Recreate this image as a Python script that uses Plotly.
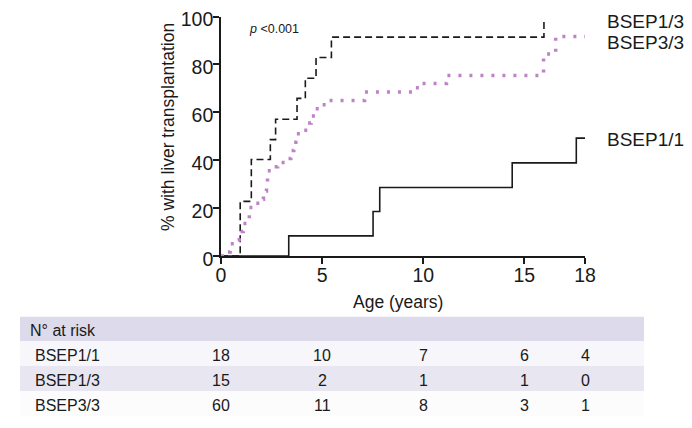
import plotly.graph_objects as go

# ---------------- data ----------------
age_11 = [0, 3.35, 7.52, 7.85, 14.4, 17.57, 18.05]
pct_11 = [0, 8.4, 18.6, 28.6, 38.9, 49.2, 49.2]

age_13 = [0, 0.95, 1.5, 2.44, 2.7, 3.76, 4.17, 4.7, 5.46, 15.97]
pct_13 = [0, 22.8, 40.3, 48.6, 57.1, 65.8, 74.2, 82.9, 91.4, 98.0]

age_33 = [0, 0.3, 0.45, 0.7, 0.9, 1.1, 1.3, 1.4, 1.6, 1.9, 2.1, 2.25, 2.3, 2.5, 2.8,
          3.3, 3.45, 3.6, 3.7, 4.1, 4.3, 4.45, 4.65, 4.95, 5.3, 7.1, 9.55, 9.9, 11.15,
          15.95, 16.55, 18.0]
pct_33 = [0, 1.7, 5.1, 6.8, 10.2, 13.6, 15.3, 20.3, 22.0, 23.7, 27.1, 30.5, 35.6, 37.3, 39.0,
          40.7, 44.0, 47.5, 51.0, 52.5, 55.5, 58.5, 61.5, 63.2, 64.9, 68.5, 70.2, 72.0, 75.4,
          84.3, 91.7, 91.7]

groups = ["BSEP1/1", "BSEP1/3", "BSEP3/3"]
risk_times = [0, 5, 10, 15, 18]
at_risk = {
    "BSEP1/1": [18, 10, 7, 6, 4],
    "BSEP1/3": [15, 2, 1, 1, 0],
    "BSEP3/3": [60, 11, 8, 3, 1],
}
x_ticks = [0, 5, 10, 15, 18]
y_ticks = [0, 20, 40, 60, 80, 100]

# ---------------- layout helpers (window pixel -> paper) ----------------
OFF = 8  # page body margin
W, H = 692 - OFF, 428 - OFF
def px(x):
    return (x - OFF) / W
def py(y):
    return 1 - (y - OFF) / H

FONT = "Liberation Sans, Arial, sans-serif"
INK = "#1a1a1a"
PURPLE = "#BE82C6"

fig = go.Figure()
fig.add_trace(go.Scatter(x=age_11, y=pct_11, mode="lines", line_shape="hv",
                         line=dict(color=INK, width=1.6), showlegend=False))
fig.add_trace(go.Scatter(x=age_13, y=pct_13, mode="lines", line_shape="hv",
                         line=dict(color=INK, width=1.6, dash="7px,4px"), showlegend=False))
fig.add_trace(go.Scatter(x=age_33, y=pct_33, mode="lines", line_shape="hv",
                         line=dict(color=PURPLE, width=3.5, dash="3px,8px"), showlegend=False))

ann = []
# curve labels
for name, yc in [("BSEP1/3", 22), ("BSEP3/3", 42), ("BSEP1/1", 139)]:
    ann.append(dict(text=name, x=px(605), y=py(yc), xref="paper", yref="paper",
                    xanchor="left", yanchor="middle", showarrow=False,
                    font=dict(family=FONT, size=19, color=INK)))
# p value
ann.append(dict(text="<i>p</i> &lt;0.001", x=px(247), y=py(29), xref="paper", yref="paper",
                xanchor="left", yanchor="middle", showarrow=False,
                font=dict(family=FONT, size=12.5, color=INK)))
# axis titles
ann.append(dict(text="% with liver transplantation", x=px(168), y=py(127), xref="paper",
                yref="paper", textangle=-90, xanchor="center", yanchor="middle",
                showarrow=False, font=dict(family=FONT, size=17.5, color=INK)))
ann.append(dict(text="Age (years)", x=px(398), y=py(302), xref="paper", yref="paper",
                xanchor="center", yanchor="middle", showarrow=False,
                font=dict(family=FONT, size=17.5, color=INK)))

# risk table
shapes = []
tbl_left, tbl_right = 20, 644
bands = [(316.7, 341, "#DDDAEB"), (341, 366, "#F7F6FA"), (366, 391, "#E8E6F1"), (391, 416, "#FCFCFD")]
for y0, y1, col in bands:
    shapes.append(dict(type="rect", xref="paper", yref="paper", x0=px(tbl_left), x1=px(tbl_right),
                       y0=py(y1), y1=py(y0), fillcolor=col, line=dict(width=0), layer="below"))
ann.append(dict(text="N° at risk", x=px(28), y=py(330), xref="paper", yref="paper",
                xanchor="left", yanchor="middle", showarrow=False,
                font=dict(family=FONT, size=16, color=INK)))
row_y = [355, 380, 405]
for g, yc in zip(groups, row_y):
    ann.append(dict(text=g, x=px(33), y=py(yc), xref="paper", yref="paper",
                    xanchor="left", yanchor="middle", showarrow=False,
                    font=dict(family=FONT, size=16, color=INK)))
    for t, n in zip(risk_times, at_risk[g]):
        ann.append(dict(text=str(n), x=t, y=py(yc), xref="x", yref="paper",
                        xanchor="center", yanchor="middle", showarrow=False,
                        font=dict(family=FONT, size=16, color=INK)))

axis_common = dict(showgrid=False, zeroline=False, showline=True, linecolor=INK, linewidth=1.6,
                   ticks="outside", ticklen=6, tickwidth=1.6, tickcolor=INK,
                   tickfont=dict(family=FONT, size=19.5, color=INK), automargin=False,
                   ticklabeloverflow="allow")

fig.update_layout(
    width=W, height=H, margin=dict(l=0, r=0, t=0, b=0),
    paper_bgcolor="white", plot_bgcolor="white",
    xaxis=dict(domain=[px(221), px(585)], range=[0, 18], tickvals=x_ticks,
               ticklabelstandoff=-5, **axis_common),
    yaxis=dict(domain=[py(256), py(16.5)], range=[0, 100], tickvals=y_ticks,
               ticklabelstandoff=-4, ticklabelshift=3, **axis_common),
    annotations=ann, shapes=shapes, showlegend=False,
)
fig.update_traces(cliponaxis=False)

fig.write_html("out.html")
